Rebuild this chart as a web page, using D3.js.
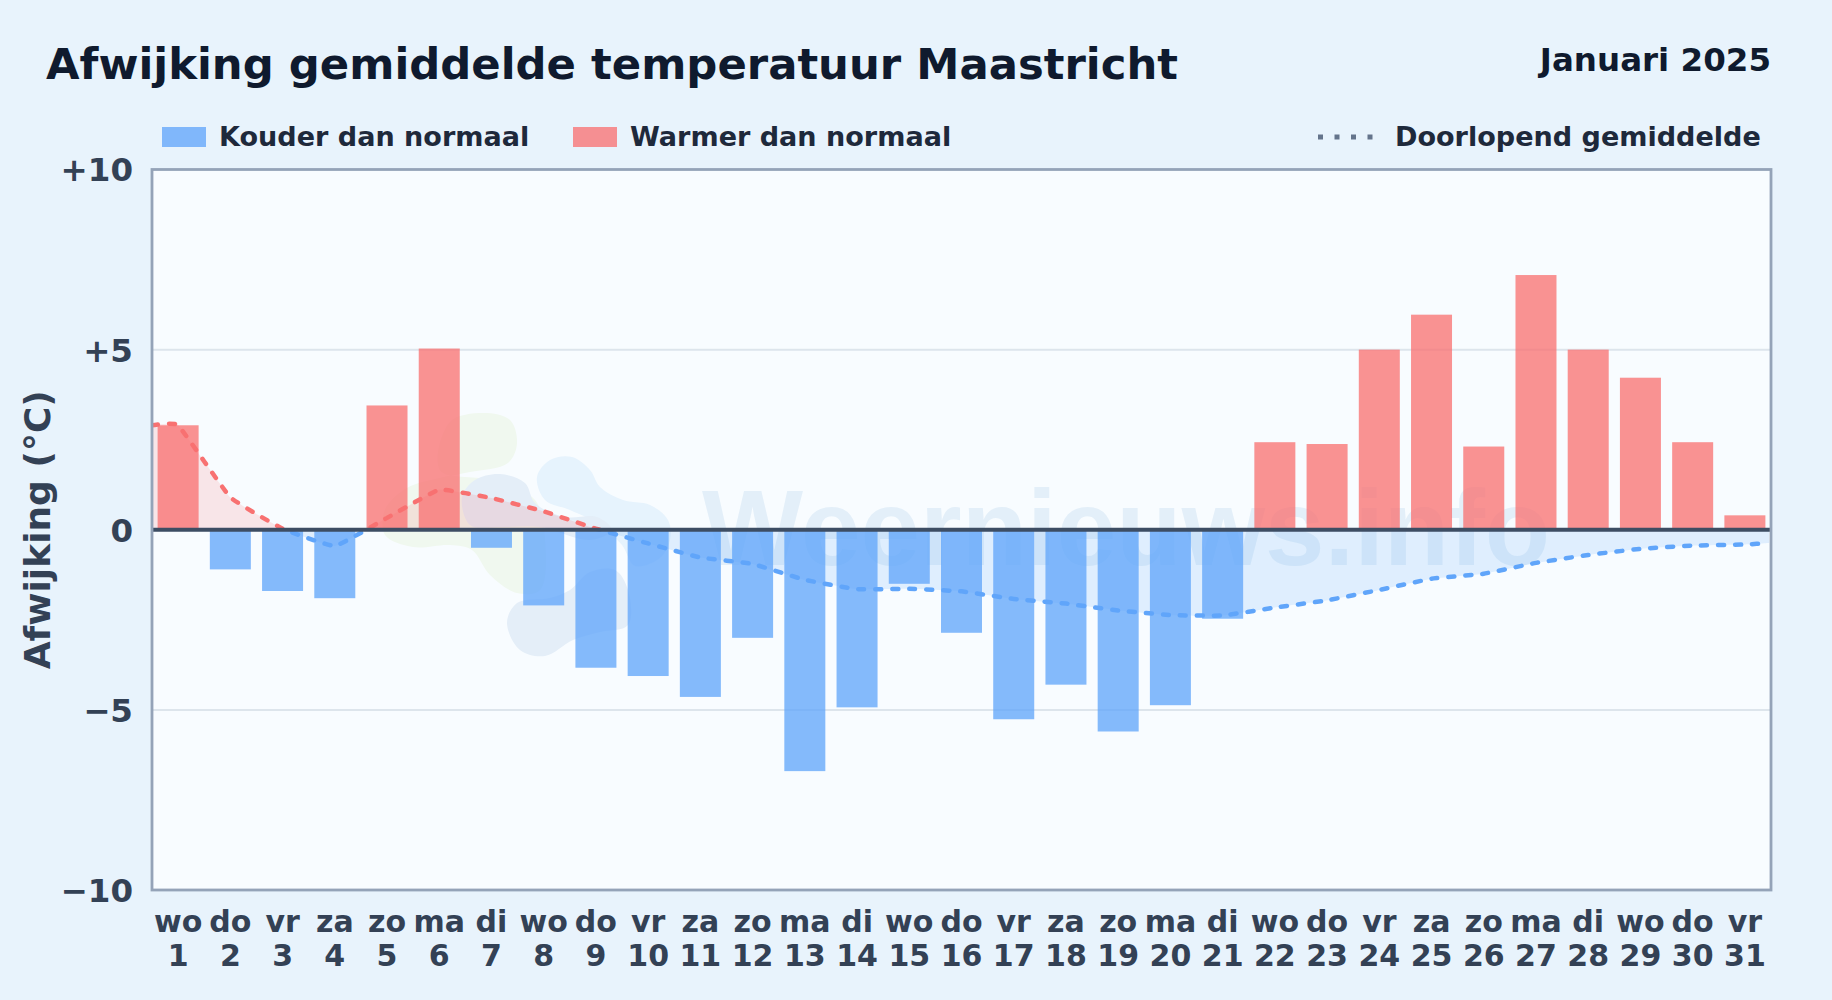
<!DOCTYPE html>
<html>
<head>
<meta charset="utf-8">
<script src="https://cdn.jsdelivr.net/npm/d3@7/dist/d3.min.js"></script>
<style>
html, body { margin: 0; padding: 0; background: #e8f3fc; }
svg { display: block; font-family: "DejaVu Sans", sans-serif; font-weight: bold; }
</style>
</head>
<body>
<div id="main"></div>
<script>
var ctx = { w: 1832, h: 1000, left: 152, right: 1771, top: 169.5, bottom: 890 };

const weekdays = ["wo","do","vr","za","zo","ma","di","wo","do","vr","za","zo","ma","di","wo","do","vr","za","zo","ma","di","wo","do","vr","za","zo","ma","di","wo","do","vr"];
const days = d3.range(1, 32);
const anomaly = [2.9,-1.1,-1.7,-1.9,3.45,5.03,-0.5,-2.1,-3.83,-4.06,-4.64,-3.0,-6.7,-4.93,-1.5,-2.86,-5.26,-4.3,-5.6,-4.87,-2.47,2.43,2.38,5.0,5.97,2.31,7.07,5.0,4.22,2.43,0.4];
const running = [2.9,0.9,0.03,-0.45,0.33,1.11,0.88,0.51,0.03,-0.38,-0.77,-0.95,-1.39,-1.65,-1.64,-1.71,-1.92,-2.05,-2.24,-2.37,-2.38,-2.16,-1.96,-1.67,-1.36,-1.22,-0.92,-0.7,-0.53,-0.44,-0.41];
const yTicks = [10,5,0,-5,-10];
const yLabels = ["+10","+5","0","\u22125","\u221210"];

var svg = d3.select("#main").append("svg").attr("width", ctx.w).attr("height", ctx.h);

var x = d3.scaleBand().domain(days).range([ctx.left, ctx.right]).paddingInner(0.215).paddingOuter(0.1075);
var y = d3.scaleLinear().domain([-10, 10]).range([ctx.bottom, ctx.top]);

svg.append("rect").attr("width", ctx.w).attr("height", ctx.h).attr("fill", "#e8f3fc");
svg.append("rect").attr("x", ctx.left).attr("y", ctx.top)
    .attr("width", ctx.right - ctx.left).attr("height", ctx.bottom - ctx.top).attr("fill", "#f8fcff");

// watermerk: logo van losse wolkjes plus tekst
var blob = d3.line().curve(d3.curveCatmullRomClosed.alpha(0.5));
var wm = svg.append("g").attr("id", "watermark");
wm.append("path").attr("fill", "#f0f8ef")
    .attr("d", blob([[450,422],[483,413],[510,420],[517,443],[508,463],[470,472],[440,478],[407,488],[385,510],[385,535],[413,547],[450,545],[472,550],[490,575],[517,593],[540,590],[545,540],[535,500],[490,480],[440,470]]));
wm.append("path").attr("fill", "#e6f3fd")
    .attr("d", blob([[537,477],[550,460],[572,457],[590,470],[600,487],[623,500],[650,505],[668,520],[670,540],[660,558],[635,566],[622,545],[600,525],[570,510],[545,500]]));
wm.append("path").attr("fill", "#e4eef8")
    .attr("d", blob([[462,497],[475,480],[500,474],[525,483],[535,503],[565,517],[597,517],[612,530],[590,540],[540,527],[500,527],[470,525]]));
wm.append("path").attr("fill", "#e4eef8")
    .attr("d", blob([[507,623],[517,603],[550,598],[570,590],[590,572],[615,570],[628,590],[628,625],[600,632],[573,640],[545,656],[520,650]]));
wm.append("text").attr("x", 702).attr("y", 565).attr("font-family", "'Liberation Sans'")
    .attr("font-size", 107).attr("fill", "#e3eff9").text("Weernieuws.info");

// rasterlijnen
svg.append("g").selectAll("line").data([5, -5]).enter().append("line")
    .attr("x1", ctx.left).attr("x2", ctx.right)
    .attr("y1", d => y(d)).attr("y2", d => y(d))
    .attr("stroke", "#dde5ec").attr("stroke-width", 2);

// lopend gemiddelde: vlak en lijn, boven en onder nul apart geknipt
var defs = svg.append("defs");
defs.append("clipPath").attr("id", "above").append("rect")
    .attr("x", ctx.left).attr("y", ctx.top).attr("width", ctx.right - ctx.left).attr("height", y(0) - ctx.top);
defs.append("clipPath").attr("id", "below").append("rect")
    .attr("x", ctx.left).attr("y", y(0)).attr("width", ctx.right - ctx.left).attr("height", ctx.bottom - y(0));

var linePts = [[ctx.left, running[0]]].concat(days.map((d, i) => [x(d) + x.bandwidth() / 2, running[i]]));
linePts.push([ctx.right - 2, running[30] + 0.04]);

var crv = d3.curveCardinal.tension(0.7);
var area = d3.area().x(d => d[0]).y0(y(0)).y1(d => y(d[1])).curve(crv);
var line = d3.line().x(d => d[0]).y(d => y(d[1])).curve(crv);

svg.append("path").datum(linePts).attr("d", area).attr("clip-path", "url(#above)")
    .attr("fill", "#f87171").attr("fill-opacity", 0.16);
svg.append("path").datum(linePts).attr("d", area).attr("clip-path", "url(#below)")
    .attr("fill", "#60a5fa").attr("fill-opacity", 0.16);

// balken
svg.append("g").selectAll("rect").data(anomaly).enter().append("rect")
    .attr("x", (d, i) => x(days[i]))
    .attr("width", x.bandwidth())
    .attr("y", d => y(Math.max(d, 0)))
    .attr("height", d => Math.abs(y(d) - y(0)))
    .attr("fill", d => d < 0 ? "#60a5fa" : "#f87171")
    .attr("fill-opacity", 0.77);

[["above", "#f87171"], ["below", "#60a5fa"]].forEach(function(s){
    svg.append("path").datum(linePts).attr("d", line).attr("clip-path", "url(#" + s[0] + ")")
        .attr("fill", "none").attr("stroke", s[1]).attr("stroke-width", 4.5)
        .attr("stroke-linecap", "round").attr("stroke-dasharray", "6 11");
});

// nullijn en kader
svg.append("line").attr("x1", ctx.left).attr("x2", ctx.right).attr("y1", y(0)).attr("y2", y(0))
    .attr("stroke", "#3d4d63").attr("stroke-width", 4);
svg.append("rect").attr("x", ctx.left).attr("y", ctx.top)
    .attr("width", ctx.right - ctx.left).attr("height", ctx.bottom - ctx.top)
    .attr("fill", "none").attr("stroke", "#94a3b8").attr("stroke-width", 2.8);

// assen
var yAxis = d3.axisLeft(y).tickValues(yTicks).tickSize(0).tickPadding(19)
    .tickFormat((d, i) => yLabels[i]);
var gy = svg.append("g").attr("transform", "translate(" + ctx.left + ",1)").call(yAxis);
gy.select(".domain").remove();
gy.selectAll("text").attr("font-size", 32.5).attr("fill", "#334155").attr("font-family", "DejaVu Sans").attr("font-weight", "bold");

var xAxis = d3.axisBottom(x).tickSize(0).tickPadding(0).tickFormat("");
var gx = svg.append("g").attr("transform", "translate(0," + ctx.bottom + ")").call(xAxis);
gx.select(".domain").remove();
gx.selectAll(".tick text").remove();
gx.selectAll(".tick").each(function(d, i){
    var t = d3.select(this).append("text").attr("text-anchor", "middle")
        .attr("font-size", 30).attr("fill", "#334155").attr("font-family", "DejaVu Sans").attr("font-weight", "bold");
    t.append("tspan").attr("x", 0).attr("y", 42).text(weekdays[i]);
    t.append("tspan").attr("x", 0).attr("y", 76).text(d);
});

svg.append("text").attr("transform", "translate(50," + y(0) + ") rotate(-90)")
    .attr("text-anchor", "middle").attr("font-size", 36).attr("fill", "#334155").text("Afwijking (°C)");

// titel
svg.append("text").attr("x", 46).attr("y", 79).attr("font-size", 43.35).attr("fill", "#0f1a2e")
    .text("Afwijking gemiddelde temperatuur Maastricht");
svg.append("text").attr("x", 1771).attr("y", 71).attr("text-anchor", "end").attr("font-size", 32.5).attr("fill", "#0f1a2e")
    .text("Januari 2025");

// legenda
var legend = svg.append("g").attr("font-size", 27.05).attr("fill", "#1e293b");
legend.append("rect").attr("x", 162).attr("y", 127).attr("width", 44).attr("height", 20).attr("fill", "#60a5fa").attr("fill-opacity", 0.77);
legend.append("text").attr("x", 219).attr("y", 146).text("Kouder dan normaal");
legend.append("rect").attr("x", 573).attr("y", 127).attr("width", 44).attr("height", 20).attr("fill", "#f87171").attr("fill-opacity", 0.77);
legend.append("text").attr("x", 630).attr("y", 146).text("Warmer dan normaal");
legend.append("line").attr("x1", 1318).attr("x2", 1375).attr("y1", 137).attr("y2", 137)
    .attr("stroke", "#64748b").attr("stroke-width", 5).attr("stroke-dasharray", "5 11.5");
legend.append("text").attr("x", 1395).attr("y", 146).text("Doorlopend gemiddelde");
</script>
</body>
</html>
